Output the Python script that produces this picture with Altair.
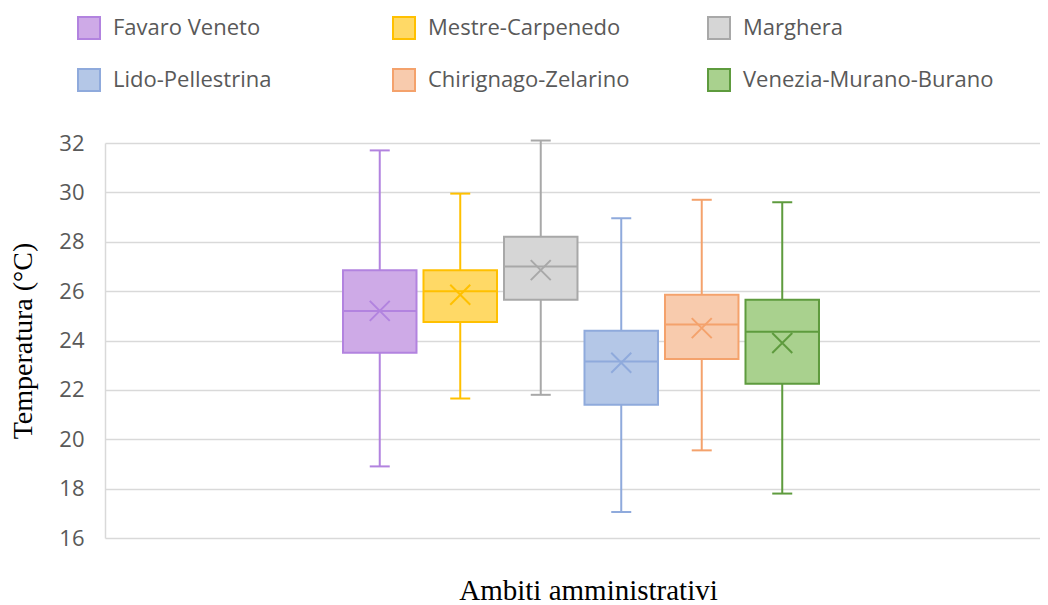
import altair as alt
import pandas as pd

ambiti = ["Favaro Veneto", "Mestre-Carpenedo", "Marghera",
          "Lido-Pellestrina", "Chirignago-Zelarino", "Venezia-Murano-Burano"]
minimo = [18.9, 21.65, 21.8, 17.05, 19.55, 17.8]
q1 = [23.5, 24.75, 25.65, 21.4, 23.25, 22.25]
mediana = [25.2, 26.0, 27.0, 23.15, 24.65, 24.35]
q3 = [26.85, 26.85, 28.2, 24.4, 25.85, 25.65]
massimo = [31.7, 29.95, 32.1, 28.95, 29.7, 29.6]
media = [25.2, 25.85, 26.85, 23.1, 24.5, 23.9]

fill_colors = ["#CEAAE7", "#FFD966", "#D6D6D6", "#B4C7E7", "#F8CBAD", "#A9D18E"]
stroke_colors = ["#B283DF", "#FFC000", "#A8A8A8", "#8FAADC", "#F4A26C", "#5E9B3E"]

df = pd.DataFrame({
    "ambito": ambiti, "min": minimo, "q1": q1, "med": mediana,
    "q3": q3, "max": massimo, "mean": media,
})

# empty slots either side of the group so the boxes sit where the reference has them
x_domain = ["_l1", "_l2"] + ambiti + ["_r1", "_r2"]
xscale = alt.Scale(domain=x_domain, paddingInner=0.087, paddingOuter=0.851, align=0.562)
xenc = alt.X("ambito:N", scale=xscale,
             axis=alt.Axis(labels=False, ticks=False, domain=False, grid=False,
                           title="Ambiti amministrativi", titleFont="Liberation Serif",
                           titleFontSize=29, titleFontWeight="normal", titleColor="#000000",
                           titleY=61, titleBaseline="alphabetic", titleX=483))
yscale = alt.Scale(domain=[16, 32], nice=False, zero=False)
yaxis = alt.Axis(values=list(range(16, 33, 2)), ticks=False, grid=True,
                 gridColor="#D9D9D9", gridWidth=1.5, domainColor="#D9D9D9",
                 domainWidth=1.5, labelFont="Open Sans", labelFontSize=22,
                 labelColor="#595959", labelPadding=21,
                 title="Temperatura (°C)", titleFont="Liberation Serif",
                 titleFontSize=28, titleFontWeight="normal", titleColor="#000000",
                 titleX=-82, titleBaseline="middle")

# legend fills column by column: order the fill/stroke domain so rows read as in the reference
legend_order = [0, 3, 1, 4, 2, 5]
leg_domain = [ambiti[i] for i in legend_order]
dark = alt.Scale(domain=leg_domain, range=[stroke_colors[i] for i in legend_order])
light = alt.Scale(domain=leg_domain, range=[fill_colors[i] for i in legend_order])
dark_plain = alt.Scale(domain=ambiti, range=stroke_colors)

base = alt.Chart(df)

whisk = base.mark_rule(strokeWidth=2).encode(
    x=xenc, y=alt.Y("min:Q", scale=yscale, axis=yaxis), y2="max:Q",
    color=alt.Color("ambito:N", scale=dark_plain, legend=None))

box = base.mark_bar(strokeWidth=2, opacity=1).encode(
    x=xenc, y=alt.Y("q1:Q", scale=yscale, axis=yaxis), y2="q3:Q",
    fill=alt.Fill("ambito:N", scale=light,
                  legend=alt.Legend(title=None, orient="none", legendX=-28, legendY=-127,
                                    columns=3, gridAlign="all", columnPadding=25,
                                    rowPadding=22, symbolType="square", symbolSize=484,
                                    symbolStrokeWidth=2, labelFont="Open Sans",
                                    labelFontSize=22, labelColor="#595959",
                                    labelOffset=12, padding=0, labelLimit=400)),
    stroke=alt.Stroke("ambito:N", scale=dark))

med = base.mark_tick(thickness=2, size=73, opacity=1).encode(
    x=xenc, y=alt.Y("med:Q", scale=yscale, axis=yaxis),
    color=alt.Color("ambito:N", scale=dark_plain, legend=None))

cap_lo = base.mark_tick(thickness=2, size=20, opacity=1).encode(
    x=xenc, y=alt.Y("min:Q", scale=yscale, axis=yaxis),
    color=alt.Color("ambito:N", scale=dark_plain, legend=None))

cap_hi = base.mark_tick(thickness=2, size=20, opacity=1).encode(
    x=xenc, y=alt.Y("max:Q", scale=yscale, axis=yaxis),
    color=alt.Color("ambito:N", scale=dark_plain, legend=None))

mean = base.mark_point(shape="M-1,-1L1,1M-1,1L1,-1", filled=False, size=400,
                       strokeWidth=2, opacity=1).encode(
    x=xenc, y=alt.Y("mean:Q", scale=yscale, axis=yaxis),
    color=alt.Color("ambito:N", scale=dark_plain, legend=None))

chart = alt.layer(whisk, box, med, cap_lo, cap_hi, mean).properties(
    width=935, height=395,
    autosize=alt.AutoSizeParams(type="none"),
    padding={"left": 97, "top": 135, "right": 0, "bottom": 66},
    background="white",
).configure_view(stroke=None)

chart.save("out.html", embed_options={"renderer": "svg", "actions": False})
